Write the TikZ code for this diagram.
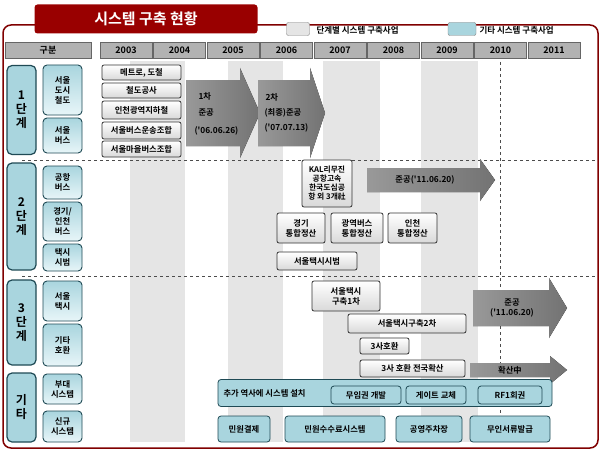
\documentclass[tikz,border=0pt]{standalone}
\usepackage{fontspec}
\newfontfamily\kr{Noto Sans CJK KR}[BoldFont={Noto Sans CJK KR Bold}]
\definecolor{teal1}{HTML}{A9D5DE}
\definecolor{teal2}{HTML}{D8EFF4}
\definecolor{tealb}{HTML}{1F4A55}
\begin{document}
\begin{tikzpicture}[x=1pt,y=-1pt,
  font=\kr\bfseries\fontsize{8.3}{10}\selectfont,
  gbox/.style={draw=black!80,line width=0.8pt,rounded corners=2pt,top color=white,bottom color=black!15,align=center,inner sep=0pt},
  tbox/.style={draw=tealb,line width=0.8pt,rounded corners=3pt,fill=teal1,align=center,inner sep=0pt},
  sbox/.style={draw=tealb,line width=0.9pt,rounded corners=4pt,top color=teal1,bottom color=teal2!60!white,align=center,inner sep=0pt},
  stage/.style={draw=tealb,line width=1.2pt,rounded corners=5pt,fill=teal1,align=center,inner sep=0pt,font=\kr\bfseries\fontsize{12}{14}\selectfont},
  hdr/.style={draw=black!60,fill=black!30,inner sep=0pt,font=\kr\bfseries\fontsize{9}{10}\selectfont},
  arr/.style={left color=black!40,right color=black!55,draw=none},
  dl/.style={dashed,black!70,line width=0.7pt}]
\useasboundingbox (0,0) rectangle (602,452);
% frame
\draw[draw=red!50!black,line width=1.5pt,rounded corners=8pt,fill=white] (3,25) rectangle (598,448);
\node[fill=red!60!black,rounded corners=3pt,minimum width=223pt,minimum height=29pt,text=white,font=\kr\bfseries\fontsize{15}{16}\selectfont] (title) at (146,19) {시스템 구축 현황};
% legend
\node[draw=black!50,fill=black!10,rounded corners=2pt,minimum width=23pt,minimum height=13pt] (lg1) at (298,29) {};
\node[anchor=west,font=\kr\bfseries\fontsize{8.5}{10}\selectfont] (lt1) at (313,30) {단계별 시스템 구축사업};
\node[draw=black!50,fill=teal1,rounded corners=2pt,minimum width=28pt,minimum height=13pt] (lg2) at (462,29) {};
\node[anchor=west,font=\kr\bfseries\fontsize{8.5}{10}\selectfont] (lt2) at (476,30) {기타 시스템 구축사업};
% stripes
\foreach \a/\b in {130/185,228/283,323/380,421/478}
  \fill[black!10] (\a,61) rectangle (\b,442);
% header
\node[hdr,minimum width=86pt,minimum height=16pt] (gb) at (48,50) {구분};
\foreach \y [count=\i from 0] in {2003,...,2011}
  \node[hdr,minimum width=52pt,minimum height=16pt] (y\y) at (126+53.5*\i,50) {\y};
% dashed lines
\draw[dl] (500,62) -- (500,442);
\draw[dl] (22,160) -- (597,160);
\draw[dl] (22,276) -- (597,276);
% stage boxes
\node[stage,minimum width=29pt,minimum height=89pt] (s1) at (21.5,110) {1\\단\\계};
\node[stage,minimum width=29pt,minimum height=107pt] (s2) at (21.5,216.5) {2\\단\\계};
\node[stage,minimum width=29pt,minimum height=85pt] (s3) at (21.5,322.5) {3\\단\\계};
\node[stage,minimum width=29pt,minimum height=69pt] (s4) at (21.5,407.5) {기\\타};
% sub boxes
\foreach \n/\t/\c/\h in {a/{서울\\도시\\철도}/90/50, b/{서울\\버스}/135.5/35, c/{공항\\버스}/182.5/33, d/{경기/\\인천\\버스}/221.5/39, e/{택시\\시범}/257.5/27, f/{서울\\택시}/301/40, g/{기타\\호환}/345/42, h/{부대\\시스템}/389/30, i/{신규\\시스템}/426.5/31}
  \node[sbox,minimum width=39pt,minimum height=\h pt] (sub\n) at (62.5,\c) {\t};
% stage 1 boxes
\foreach \n/\t/\c/\h in {m1/{메트로, 도철}/72.5/15, m2/{철도공사}/90.5/15, m3/{인천광역지하철}/110/18, m4/{서울버스운송조합}/130.5/17, m5/{서울마을버스조합}/149/16}
  \node[gbox,minimum width=79pt,minimum height=\h pt] (\n) at (141.5,\c) {\t};
% arrows stage 1
\fill[arr] (186,80) -- (240,80) -- (240,68) -- (260,113) -- (240,158) -- (240,146) -- (186,146) -- cycle;
\node[anchor=west] (a1a) at (195,96) {1차};
\node[anchor=west] (a1b) at (195,113) {준공};
\node[anchor=west] (a1c) at (191,131) {('06.06.26)};
\fill[arr] (258,80) -- (310,80) -- (310,68) -- (325,113) -- (310,158) -- (310,146) -- (258,146) -- cycle;
\node[anchor=west] (a2a) at (262,97) {2차};
\node[anchor=west] (a2b) at (261,113) {(최종)준공};
\node[anchor=west] (a2c) at (261,128) {('07.07.13)};
% stage 2
\node[gbox,minimum width=50pt,minimum height=47pt,font=\kr\bfseries\fontsize{7.8}{9}\selectfont] (kal) at (327,183.5) {KAL리무진\\공항고속\\한국도심공\\항 외 3개社};
\fill[arr] (367,168) -- (480,168) -- (480,159) -- (495,180) -- (480,201) -- (480,192) -- (367,192) -- cycle;
\node (a3) at (425,180) {준공('11.06.20)};
\node[gbox,minimum width=48pt,minimum height=30pt] (gg) at (301,228) {경기\\통합정산};
\node[gbox,minimum width=52pt,minimum height=30pt] (gy) at (357,228) {광역버스\\통합정산};
\node[gbox,minimum width=49pt,minimum height=30pt] (ic) at (412.5,228) {인천\\통합정산};
\node[gbox,minimum width=80pt,minimum height=18pt] (tx) at (317,261) {서울택시시범};
% stage 3
\fill[arr] (473,290) -- (549,290) -- (549,278) -- (567,308) -- (549,338) -- (549,326) -- (473,326) -- cycle;
\node[align=center] (a4) at (512,308) {준공\\('11.06.20)};
\node[gbox,minimum width=68pt,minimum height=30pt] (t1) at (346,296) {서울택시\\구축1차};
\node[gbox,minimum width=118pt,minimum height=19pt] (t2) at (407,323.5) {서울택시구축2차};
\node[gbox,minimum width=49pt,minimum height=16pt] (t3) at (384.5,346) {3사호환};
\node[gbox,minimum width=105pt,minimum height=17pt] (t4) at (412.5,368.5) {3사 호환 전국확산};
\fill[arr] (470,363) -- (550,363) -- (550,356) -- (567,370) -- (550,384) -- (550,377) -- (470,377) -- cycle;
\node (a5) at (510,370) {확산中};
% others
\node[tbox,minimum width=334pt,minimum height=27pt] (big) at (385,393) {};
\node[anchor=west] (bt) at (220,393) {추가 역사에 시스템 설치};
\node[tbox,minimum width=70pt,minimum height=18pt] (o1) at (366,395) {무임권 개발};
\node[tbox,minimum width=60pt,minimum height=18pt] (o2) at (436,395) {게이트 교체};
\node[tbox,minimum width=64pt,minimum height=18pt] (o3) at (510,395) {RF1회권};
\node[tbox,minimum width=52pt,minimum height=26pt] (n1) at (244,429) {민원결제};
\node[tbox,minimum width=100pt,minimum height=26pt] (n2) at (335,429) {민원수수료시스템};
\node[tbox,minimum width=66pt,minimum height=26pt] (n3) at (429,429) {공영주차장};
\node[tbox,minimum width=80pt,minimum height=26pt] (n4) at (510,429) {무인서류발급};
\end{tikzpicture}
\end{document}
